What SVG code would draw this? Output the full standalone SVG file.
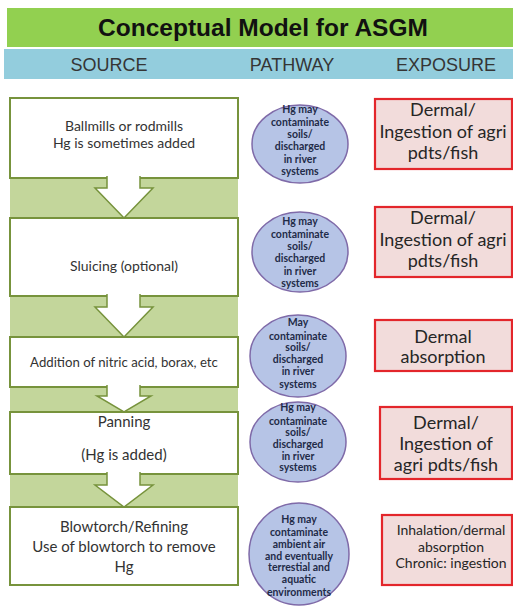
<svg xmlns="http://www.w3.org/2000/svg" width="513" height="606" viewBox="0 0 513 606">
<style>
.src{fill:#fff;stroke:#77933c;stroke-width:2}
.arr{fill:#fff;stroke:#77933c;stroke-width:1.5}
.ell{fill:#b6c4e6;stroke:#7f6aa8;stroke-width:1.5}
.exp{fill:#f2dcdb;stroke:#e3262b;stroke-width:2.2}
.st{font-family:Lato,"Liberation Sans",sans-serif;fill:#333;text-anchor:middle}
.et{font-family:Lato,"Liberation Sans",sans-serif;font-size:10.5px;font-weight:bold;fill:#1f2b48;text-anchor:middle}
.xt{font-family:Lato,"Liberation Sans",sans-serif;fill:#262626;text-anchor:middle}
.hd{font-family:"Liberation Sans",Arial,sans-serif;font-size:18px;fill:#353535;text-anchor:middle}
</style>
<rect x="0" y="0" width="513" height="606" fill="#fff"/>
<g id="title">
<rect x="7" y="8" width="506" height="39" fill="#92d050"/>
<text x="263" y="36" font-family="'Liberation Sans',Arial,sans-serif" font-size="24.5" font-weight="bold" fill="#111" text-anchor="middle">Conceptual Model for ASGM</text>
</g>
<g id="header">
<rect x="4" y="49" width="509" height="30" fill="#93cddd"/>
<text class="hd" x="109" y="71">SOURCE</text>
<text class="hd" x="292" y="71">PATHWAY</text>
<text class="hd" x="446" y="71">EXPOSURE</text>
</g>
<rect x="10" y="98" width="228" height="487" fill="#c3d69b"/>
<g id="s1"><rect class="src" x="10" y="98" width="228" height="80"/>
<text class="st" x="124" y="131" font-size="14">Ballmills or rodmills</text>
<text class="st" x="124" y="148" font-size="14">Hg is sometimes added</text></g>
<g id="s2"><rect class="src" x="10" y="218" width="228" height="78"/>
<text class="st" x="124" y="271" font-size="14">Sluicing (optional)</text></g>
<g id="s3"><rect class="src" x="10" y="337" width="228" height="50"/>
<text class="st" x="124" y="367" font-size="13.2">Addition of nitric acid, borax, etc</text></g>
<g id="s4"><rect class="src" x="10" y="412" width="228" height="62"/>
<text class="st" x="124" y="427" font-size="15">Panning</text>
<text class="st" x="124" y="460" font-size="15">(Hg is added)</text></g>
<g id="s5"><rect class="src" x="10" y="507" width="228" height="78"/>
<text class="st" x="124" y="532" font-size="15">Blowtorch/Refining</text>
<text class="st" x="124" y="552" font-size="15">Use of blowtorch to remove</text>
<text class="st" x="124" y="572" font-size="15">Hg</text></g>
<g id="connectors">
<path class="arr" d="M107,176 V188 H95 L124,218 L153,188 H140 V176"/>
<path class="arr" d="M107,294 V307 H95 L124,337 L153,307 H140 V294"/>
<path class="arr" d="M107,385 V396 H97 L124,412 L151,396 H140 V385"/>
<path class="arr" d="M107,472 V485 H95 L124,507 L153,485 H140 V472"/>
</g>
<g id="p1"><ellipse class="ell" cx="300" cy="144" rx="48" ry="39"/>
<text class="et" x="300" y="113">Hg may</text><text class="et" x="300" y="126">contaminate</text><text class="et" x="300" y="138">soils/</text><text class="et" x="300" y="150">discharged</text><text class="et" x="300" y="163">in river</text><text class="et" x="300" y="175">systems</text></g>
<g id="p2"><ellipse class="ell" cx="300" cy="252" rx="48" ry="40"/>
<text class="et" x="300" y="225">Hg may</text><text class="et" x="300" y="238">contaminate</text><text class="et" x="300" y="250">soils/</text><text class="et" x="300" y="262">discharged</text><text class="et" x="300" y="275">in river</text><text class="et" x="300" y="287">systems</text></g>
<g id="p3"><ellipse class="ell" cx="298" cy="356" rx="48" ry="41"/>
<text class="et" x="298" y="326">May</text><text class="et" x="298" y="340">contaminate</text><text class="et" x="298" y="351">soils/</text><text class="et" x="298" y="363">discharged</text><text class="et" x="298" y="375">in river</text><text class="et" x="298" y="388">systems</text></g>
<g id="p4"><ellipse class="ell" cx="298" cy="442" rx="48" ry="40"/>
<text class="et" x="298" y="411">Hg may</text><text class="et" x="298" y="425">contaminate</text><text class="et" x="298" y="436">soils/</text><text class="et" x="298" y="448">discharged</text><text class="et" x="298" y="460">in river</text><text class="et" x="298" y="471">systems</text></g>
<g id="p5"><ellipse class="ell" cx="299" cy="554" rx="50" ry="51"/>
<text class="et" x="299" y="523">Hg may</text><text class="et" x="299" y="536">contaminate</text><text class="et" x="299" y="548">ambient air</text><text class="et" x="299" y="560">and eventually</text><text class="et" x="299" y="571">terrestial and</text><text class="et" x="299" y="583">aquatic</text><text class="et" x="299" y="596">environments</text></g>
<g id="e1"><rect class="exp" x="375" y="99" width="137" height="70"/>
<text class="xt" x="443" y="116" font-size="18">Dermal/</text><text class="xt" x="443" y="138" font-size="18">Ingestion of agri</text><text class="xt" x="443" y="159" font-size="18">pdts/fish</text></g>
<g id="e2"><rect class="exp" x="375" y="207" width="137" height="70"/>
<text class="xt" x="443" y="224" font-size="18">Dermal/</text><text class="xt" x="443" y="246" font-size="18">Ingestion of agri</text><text class="xt" x="443" y="267" font-size="18">pdts/fish</text></g>
<g id="e3"><rect class="exp" x="375" y="320" width="137" height="51"/>
<text class="xt" x="443" y="343" font-size="18">Dermal</text><text class="xt" x="443" y="363" font-size="18">absorption</text></g>
<g id="e4"><rect class="exp" x="380" y="407" width="132" height="72"/>
<text class="xt" x="446" y="429" font-size="18">Dermal/</text><text class="xt" x="446" y="450" font-size="18">Ingestion of</text><text class="xt" x="446" y="471" font-size="18">agri pdts/fish</text></g>
<g id="e5"><rect class="exp" x="382" y="515" width="130" height="70"/>
<text class="xt" x="451" y="535" font-size="14">Inhalation/dermal</text><text class="xt" x="451" y="552" font-size="14">absorption</text><text class="xt" x="451" y="568" font-size="14">Chronic: ingestion</text></g>
</svg>
